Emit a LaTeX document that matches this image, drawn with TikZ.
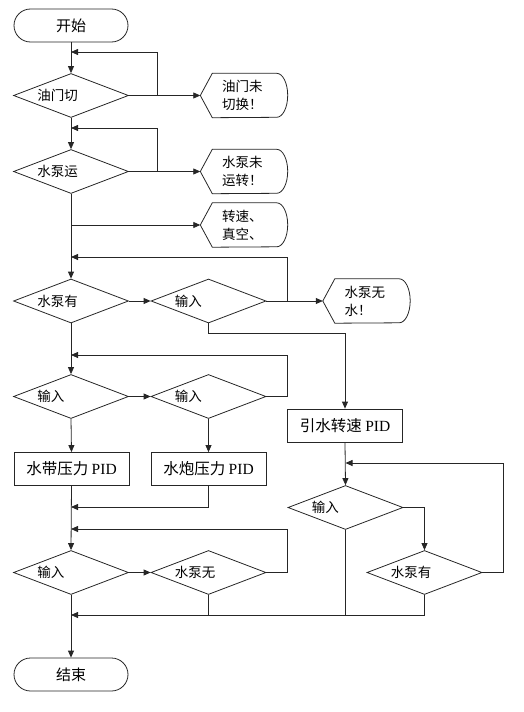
\documentclass[tikz,border=0pt]{standalone}
\usepackage{fontspec}
\setmainfont{Noto Sans CJK SC}
\newfontfamily\pidfont{Liberation Serif}
\usetikzlibrary{shapes.geometric,shapes.misc,arrows.meta,positioning}
\tikzset{
  linec/.style={draw=black!85, line width=0.8pt},
  term/.style={rounded rectangle, linec, minimum width=114pt, minimum height=33pt, inner sep=0pt, font=\fontsize{15pt}{18pt}\selectfont},
  cond/.style={diamond, linec, minimum width=115pt, minimum height=44pt, inner sep=0pt},
  condtext/.style={inner sep=0pt, font=\fontsize{13.5pt}{18pt}\selectfont},
  proc/.style={rectangle, linec, minimum width=115pt, minimum height=33pt, inner sep=0pt, font=\fontsize{15.5pt}{18pt}\selectfont},
  warn/.style={minimum width=87pt, minimum height=44pt, inner sep=0pt, text width=44pt, align=left, font=\fontsize{13.5pt}{18pt}\selectfont},
  flow/.style={linec, -{Triangle[length=7pt,width=6pt]}}
}
\begin{document}
\begin{tikzpicture}[x=1pt,y=-1pt]
      \useasboundingbox (0,0) rectangle (523,712);
      \node[term] (start) at (71,25.5) {开始};
      \node[cond] (d1) at (71,95.5) {};
      \node[cond] (d2) at (71,171.5) {};
      \node[cond] (d3) at (71,301) {};
      \node[cond] (d4) at (208.5,301) {};
      \node[cond] (d5) at (71,396.5) {};
      \node[cond] (d6) at (208.5,396.5) {};
      \node[cond] (d7) at (71,572.5) {};
      \node[cond] (d8) at (208.5,572.5) {};
      \node[cond] (d9) at (345.5,507.5) {};
      \node[cond] (d10) at (424.5,572.5) {};
      \node[condtext, right=24pt of d1.west] (t1) {油门切};
      \node[condtext, right=24pt of d2.west] (t2) {水泵运};
      \node[condtext, right=24pt of d3.west] (t3) {水泵有};
      \node[condtext, right=24pt of d4.west] (t4) {输入};
      \node[condtext, right=24pt of d5.west] (t5) {输入};
      \node[condtext, right=24pt of d6.west] (t6) {输入};
      \node[condtext, right=24pt of d7.west] (t7) {输入};
      \node[condtext, right=24pt of d8.west] (t8) {水泵无};
      \node[condtext, right=24pt of d9.west] (t9) {输入};
      \node[condtext, right=24pt of d10.west] (t10) {水泵有};
      \node[warn] (w1) at (244,95.5) {油门未\\切换！};
      \node[warn] (w2) at (244,171.5) {水泵未\\运转！};
      \node[warn] (w3) at (244,225) {转速、\\真空、};
      \node[warn] (w4) at (366.5,301) {水泵无\\水！};
      \foreach \w in {w1,w2,w3,w4}
        \draw[linec] (\w.west) -- ([xshift=12pt]\w.north west) -- ([xshift=-11pt]\w.north east)
          arc[start angle=90, end angle=-90, x radius=11pt, y radius=22pt]
          -- ([xshift=12pt]\w.south west) -- cycle;
      \node[proc] (b1) at (71.5,469) {水带压力 {\pidfont PID}};
      \node[proc] (b2) at (208.5,469) {水炮压力 {\pidfont PID}};
      \node[proc] (b3) at (345,425.5) {引水转速 {\pidfont PID}};
      \node[term] (end) at (71,674.5) {结束};
      \coordinate (m1) at (71,52);
      \coordinate (j1) at (157,95.5);
      \coordinate (m2) at (71,128);
      \coordinate (j2) at (157,171.5);
      \coordinate (j3) at (71,225);
      \coordinate (m3) at (71,257);
      \coordinate (j4) at (287,301);
      \coordinate (k1) at (208.5,333);
      \coordinate (m4) at (71,355);
      \coordinate (j5) at (287,396.5);
      \coordinate (m5) at (71,507);
      \coordinate (m6) at (71,529);
      \coordinate (j6) at (287,572.5);
      \coordinate (m7) at (71,615);
      \coordinate (j7) at (208.5,615);
      \coordinate (j8) at (345.5,615);
      \coordinate (m8) at (345.5,463);
      \coordinate (j9) at (503,572.5);
      \begin{scope}[flow]
        \draw (start.south) -- (d1.north);
        \draw (d1.east) -- (w1.west);
        \draw (j1) |- (m1);
        \draw (d1.south) -- (d2.north);
        \draw (d2.east) -- (w2.west);
        \draw (j2) |- (m2);
        \draw (d2.south) -- (d3.north);
        \draw (j3) -- (w3.west);
        \draw (d3.east) -- (d4.west);
        \draw (d4.east) -- (w4.west);
        \draw (j4) |- (m3);
        \draw (d4.south) -- (k1) -| (b3.north);
        \draw (d3.south) -- (d5.north);
        \draw (d5.east) -- (d6.west);
        \draw (d6.east) -- (j5) |- (m4);
        \draw (d5.south) -- (b1.north);
        \draw (d6.south) -- (b2.north);
        \draw (b1.south) -- (d7.north);
        \draw (b2.south) |- (m5);
        \draw (d7.east) -- (d8.west);
        \draw (d8.east) -- (j6) |- (m6);
        \draw (d10.south) |- (m7);
        \draw (d7.south) -- (end.north);
        \draw (b3.south) -- (d9.north);
        \draw (d9.east) -| (d10.north);
        \draw (d10.east) -- (j9) |- (m8);
      \end{scope}
      \begin{scope}[linec]
        \draw (d8.south) -- (j7);
        \draw (d9.south) -- (j8);
      \end{scope}
    \end{tikzpicture}
\end{document}
